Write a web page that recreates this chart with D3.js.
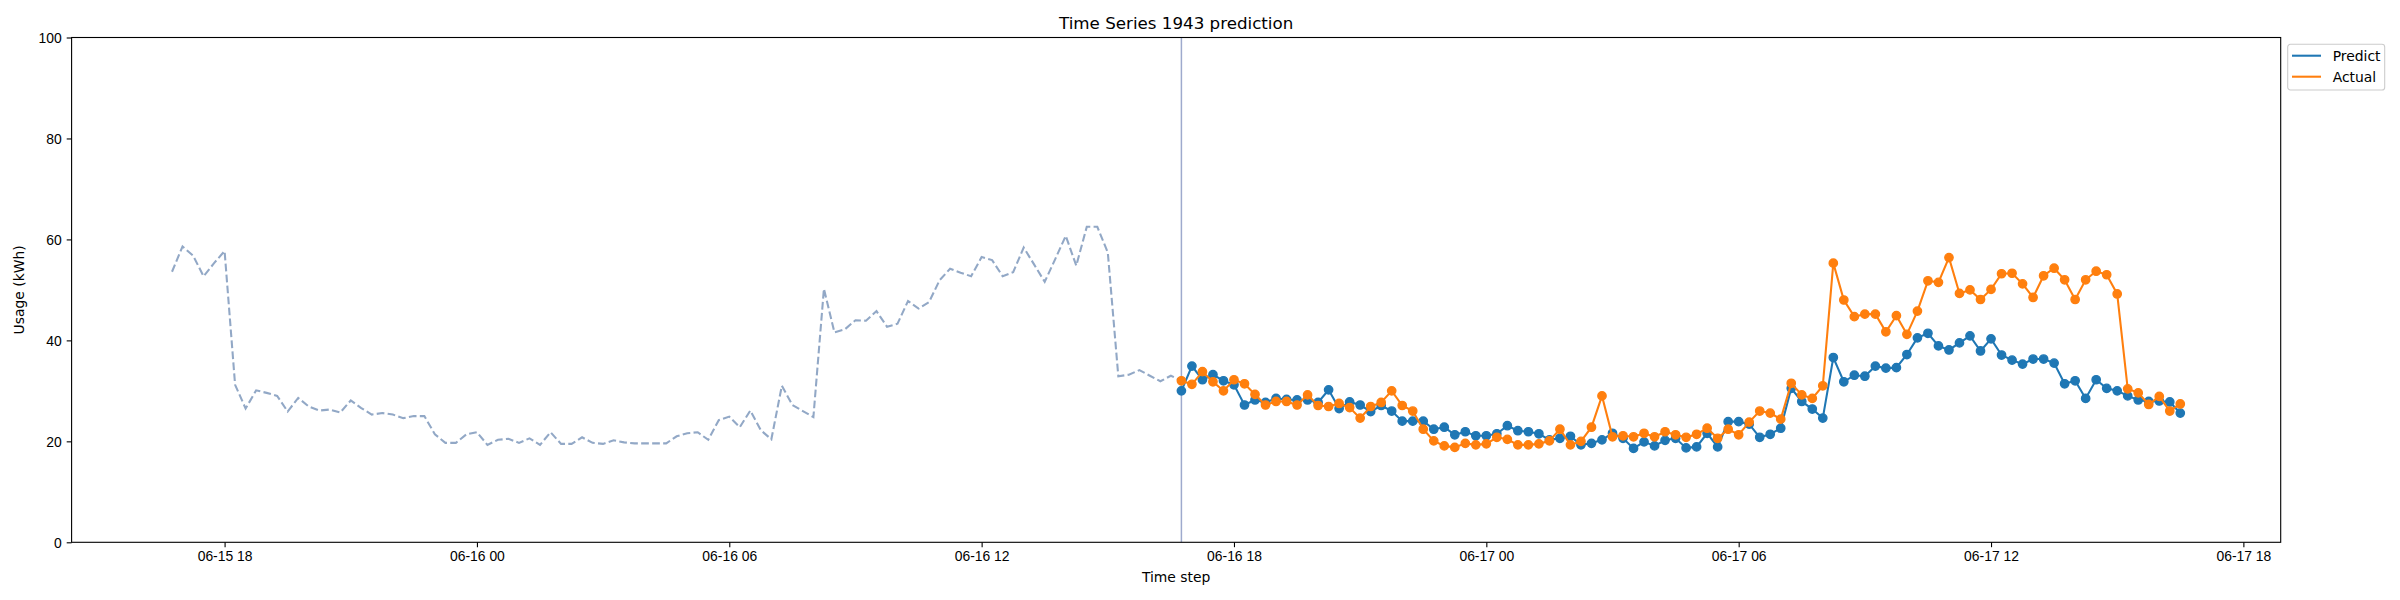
<!DOCTYPE html>
<html>
<head>
<meta charset="utf-8">
<script src="https://cdn.jsdelivr.net/npm/d3@7"></script>
<style>
  body { margin: 0; background: #fff; }
  svg { display: block; font-family: "DejaVu Sans", sans-serif; }
  .tick text { font-size: 13.9px; fill: #000; }
</style>
</head>
<body>
<svg id="chart" width="2400" height="600"></svg>
<script>
// 15 minute steps, first history point 06-15 16:45
var historyStart = new Date(2021, 5, 15, 16, 45);
var forecastStart = new Date(2021, 5, 16, 16, 45);
var stepMinutes = 15;

var pastUsage = [
  53.6, 58.6, 56.8, 52.7, 55.3, 57.7, 31.2, 26.5, 30.1, 29.6,
  29.0, 25.9, 28.6, 26.9, 26.1, 26.3, 25.7, 28.1, 26.6, 25.3,
  25.6, 25.3, 24.6, 25.0, 25.0, 21.4, 19.7, 19.7, 21.4, 21.8,
  19.3, 20.3, 20.5, 19.7, 20.6, 19.3, 21.8, 19.5, 19.5, 20.8,
  19.7, 19.5, 20.2, 19.8, 19.6, 19.6, 19.6, 19.6, 21.0, 21.6,
  21.8, 20.3, 24.2, 24.9, 22.8, 26.1, 22.2, 20.4, 31.0, 27.2,
  26.0, 24.8, 50.2, 41.6, 42.2, 44.0, 43.9, 45.8, 42.7, 43.3,
  47.8, 46.3, 47.6, 51.9, 54.2, 53.4, 52.7, 56.5, 55.9, 52.7,
  53.5, 58.4, 55.0, 51.6, 56.1, 60.7, 54.8, 62.5, 62.5, 57.4,
  32.9, 33.2, 34.1, 33.0, 31.9, 33.0, 32.0
];

var predict = [
  30.0, 34.9, 32.2, 33.2, 32.0, 31.2, 27.2, 28.2, 27.7, 28.5,
  28.3, 28.2, 28.2, 27.7, 30.2, 26.5, 27.8, 27.2, 25.9, 27.1,
  26.0, 24.0, 24.0, 24.0, 22.4, 22.8, 21.3, 21.9, 21.1, 21.1,
  21.5, 23.1, 22.1, 21.9, 21.5, 20.3, 20.6, 21.0, 19.3, 19.6,
  20.3, 21.6, 20.6, 18.6, 19.9, 19.1, 20.2, 20.6, 18.7, 18.9,
  21.6, 18.9, 23.9, 23.9, 23.4, 20.8, 21.4, 22.6, 30.5, 27.9,
  26.4, 24.6, 36.6, 31.8, 33.1, 32.9, 34.9, 34.5, 34.6, 37.2,
  40.5, 41.4, 38.9, 38.1, 39.5, 40.9, 37.9, 40.3, 37.1, 36.1,
  35.3, 36.3, 36.3, 35.5, 31.4, 32.0, 28.5, 32.2, 30.5, 30.0,
  29.0, 28.2, 27.9, 28.0, 27.8, 25.6
];

var actual = [
  32.0, 31.3, 33.8, 31.8, 30.0, 32.2, 31.4, 29.3, 27.2, 27.9,
  27.9, 27.2, 29.2, 27.1, 26.9, 27.5, 26.7, 24.6, 26.9, 27.7,
  30.0, 27.1, 26.0, 22.4, 20.1, 19.1, 18.8, 19.6, 19.3, 19.5,
  20.8, 20.4, 19.3, 19.3, 19.5, 20.1, 22.4, 19.3, 20.0, 22.8,
  29.0, 20.9, 21.1, 20.9, 21.6, 20.9, 21.9, 21.3, 20.8, 21.4,
  22.6, 20.6, 22.4, 21.3, 23.8, 26.0, 25.6, 24.4, 31.5, 29.2,
  28.5, 31.0, 55.3, 48.0, 44.7, 45.2, 45.2, 41.7, 44.9, 41.2,
  45.8, 51.8, 51.5, 56.4, 49.3, 50.0, 48.1, 50.1, 53.2, 53.3,
  51.2, 48.5, 52.8, 54.3, 52.0, 48.1, 52.0, 53.7, 53.0, 49.2,
  30.4, 29.6, 27.3, 28.9, 26.0, 27.4
];

var yTicks = [0, 20, 40, 60, 80, 100];
var seriesNames = ["Predict", "Actual"];
var seriesColors = ["#1f77b4", "#ff7f0e"];

function withTimes(values, start) {
  return values.map(function(v, i) {
    return { t: d3.timeMinute.offset(start, i * stepMinutes), v: v };
  });
}

var histData = withTimes(pastUsage, historyStart);
var predData = withTimes(predict, forecastStart);
var actData = withTimes(actual, forecastStart);

var svg = d3.select("#chart");
var plotLeft = 71.6, plotRight = 2280.7, plotTop = 37.5, plotBottom = 542.3;

// matplotlib style 5% margin on the time axis
var tMin = histData[0].t, tMax = actData[actData.length - 1].t;
var pad = (tMax - tMin) * 0.05;
var x = d3.scaleTime()
  .domain([new Date(+tMin - pad), new Date(+tMax + pad)])
  .range([plotLeft, plotRight]);
var y = d3.scaleLinear().domain([0, 100]).range([plotBottom, plotTop]);

svg.append("rect").attr("width", 2400).attr("height", 600).attr("fill", "#fff");

// axes
var xAxis = d3.axisBottom(x)
  .ticks(d3.timeHour.every(6))
  .tickFormat(d3.timeFormat("%m-%d %H"))
  .tickSize(4.9).tickPadding(4.2);
var gx = svg.append("g").attr("transform", "translate(0," + plotBottom + ")").call(xAxis);
gx.select(".domain").remove();
gx.selectAll(".tick line").attr("stroke", "#000").attr("stroke-width", 1.1);

var yAxis = d3.axisLeft(y).tickValues(yTicks).tickSize(4.9).tickPadding(4.9);
var gy = svg.append("g").attr("transform", "translate(" + plotLeft + ",0)").call(yAxis);
gy.select(".domain").remove();
gy.selectAll(".tick line").attr("stroke", "#000").attr("stroke-width", 1.1);
gy.selectAll(".tick text").attr("dy", "0.36em");

// history (dashed)
var line = d3.line().x(function(d) { return x(d.t); }).y(function(d) { return y(d.v); });
svg.append("path").datum(histData)
  .attr("d", line)
  .attr("fill", "none")
  .attr("stroke", "#92a8c6")
  .attr("stroke-width", 2.08)
  .attr("stroke-dasharray", "7.7,3.3");

// forecast start marker
svg.append("line")
  .attr("x1", x(forecastStart)).attr("x2", x(forecastStart))
  .attr("y1", plotTop).attr("y2", plotBottom)
  .attr("stroke", "#9eaacd").attr("stroke-width", 1.5);

[predData, actData].forEach(function(data, s) {
  var c = seriesColors[s];
  svg.append("path").datum(data)
    .attr("d", line)
    .attr("fill", "none")
    .attr("stroke", c)
    .attr("stroke-width", 2.08);
  svg.append("g").selectAll("circle").data(data).enter().append("circle")
    .attr("cx", function(d) { return x(d.t); })
    .attr("cy", function(d) { return y(d.v); })
    .attr("r", 4.17)
    .attr("fill", c)
    .attr("stroke", c)
    .attr("stroke-width", 1.39);
});

// frame
svg.append("rect")
  .attr("x", plotLeft).attr("y", plotTop)
  .attr("width", plotRight - plotLeft).attr("height", plotBottom - plotTop)
  .attr("fill", "none").attr("stroke", "#000").attr("stroke-width", 1.1);

// text
svg.append("text")
  .attr("x", (plotLeft + plotRight) / 2).attr("y", 29.2)
  .attr("text-anchor", "middle").attr("font-size", 16.7)
  .text("Time Series 1943 prediction");
svg.append("text")
  .attr("x", (plotLeft + plotRight) / 2).attr("y", 582)
  .attr("text-anchor", "middle").attr("font-size", 13.9)
  .text("Time step");
svg.append("text")
  .attr("transform", "translate(24," + ((plotTop + plotBottom) / 2) + ") rotate(-90)")
  .attr("text-anchor", "middle").attr("font-size", 13.9)
  .text("Usage (kWh)");

// legend outside, upper left of the right edge
var lg = svg.append("g").attr("transform", "translate(2287.7,44.3)");
lg.append("rect")
  .attr("width", 97).attr("height", 45.7).attr("rx", 2.8)
  .attr("fill", "#fff").attr("fill-opacity", 0.8)
  .attr("stroke", "#cccccc").attr("stroke-width", 1.1);
seriesNames.forEach(function(name, i) {
  var cy = 11.4 + i * 21;
  lg.append("line")
    .attr("x1", 4.3).attr("x2", 33.3).attr("y1", cy).attr("y2", cy)
    .attr("stroke", seriesColors[i]).attr("stroke-width", 2.08);
  lg.append("text")
    .attr("x", 45).attr("y", cy).attr("dy", "0.36em")
    .attr("font-size", 13.9)
    .text(name);
});
</script>
</body>
</html>
